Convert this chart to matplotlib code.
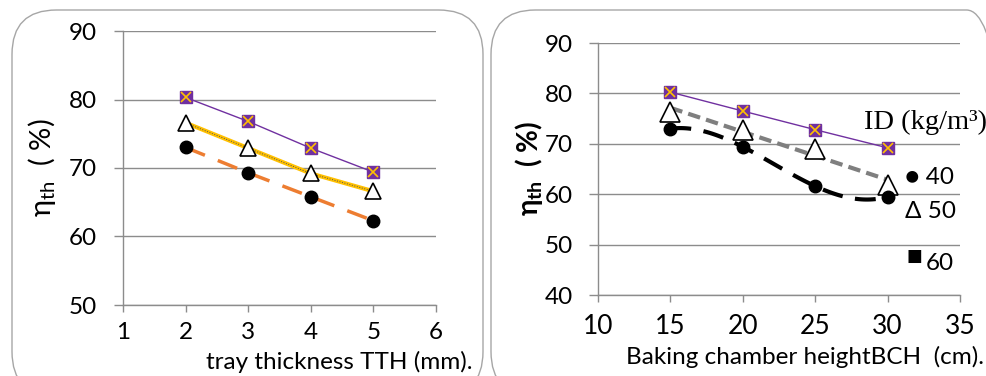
import numpy as np
import matplotlib.pyplot as plt
from matplotlib.patches import FancyBboxPatch

# ---------------------------------------------------------------
# data
# ---------------------------------------------------------------
tth = [2, 3, 4, 5]                       # tray thickness (mm)
tth_id60 = [80.3, 76.8, 72.9, 69.4]
tth_id50 = [76.6, 72.9, 69.2, 66.6]
tth_id40 = [73.0, 69.3, 65.8, 62.3]

bch = [15, 20, 25, 30]                   # baking chamber height (cm)
bch_id60 = [80.25, 76.5, 72.8, 69.2]
bch_id50 = [76.4, 72.8, 69.0, 61.8]
bch_id40 = [73.0, 69.4, 61.6, 59.5]

left_xticks = [1, 2, 3, 4, 5, 6]
left_yticks = [50, 60, 70, 80, 90]
right_xticks = [10, 15, 20, 25, 30, 35]
right_yticks = [40, 50, 60, 70, 80, 90]

FONT = 'Lato'
GRID = '#8c8c8c'
PURPLE = '#7030a0'
GOLD = '#ffc000'
ORANGE = '#ed7d31'

plt.rcParams['font.family'] = [FONT, 'DejaVu Sans']
plt.rcParams['mathtext.fontset'] = 'custom'
plt.rcParams['mathtext.rm'] = FONT
plt.rcParams['mathtext.bf'] = FONT + ':bold'

fig = plt.figure(figsize=(9.87, 3.76), dpi=100)

# rounded frames around both panels (bottom runs past the figure edge)
for x0, w in [(12, 471), (491, 520)]:
    box = FancyBboxPatch((x0 / 987, -20 / 376), w / 987, 386 / 376,
                         boxstyle='round,pad=0,rounding_size=0.045',
                         transform=fig.transFigure, fill=False,
                         ec='#a6a6a6', lw=1.0, mutation_aspect=987 / 376)
    fig.patches.append(box)


def style_axes(ax, xticks, yticks):
    for s in ['top', 'right']:
        ax.spines[s].set_visible(False)
    for s in ['left', 'bottom']:
        ax.spines[s].set_color(GRID)
        ax.spines[s].set_linewidth(1.0)
    ax.set_xticks(xticks)
    ax.set_yticks(yticks)
    ax.set_xlim(xticks[0], xticks[-1])
    ax.set_ylim(yticks[0], yticks[-1])
    ax.yaxis.grid(True, color=GRID, lw=1.0)
    ax.set_axisbelow(True)
    ax.tick_params(axis='y', length=6.5, color=GRID, width=1, labelsize=17.5, pad=12)
    ax.tick_params(axis='x', length=5, color=GRID, width=1, labelsize=17.5, pad=7)


# ---------------------------------------------------------------
# left panel: tray thickness
# ---------------------------------------------------------------
ax1 = fig.add_axes([123 / 987, 1 - 305 / 376, 313 / 987, 274 / 376])
style_axes(ax1, left_xticks, left_yticks)

ax1.plot(tth, tth_id60, color=PURPLE, lw=1.0, zorder=3)
ax1.plot(tth, tth_id60, 's', ms=8, mfc=PURPLE, mec=PURPLE, zorder=4)
ax1.plot(tth, tth_id60, 'x', ms=7, mew=1.2, color=GOLD, zorder=5)

ax1.plot(tth, tth_id50, color=GOLD, lw=3, zorder=3)
ax1.plot(tth, tth_id50, color='#555555', lw=0.7, ls=':', zorder=3)
ax1.plot(tth, tth_id50, '^', ms=11, mfc='white', mec='black', mew=1.2, zorder=4)

ax1.plot(tth, tth_id40, color=ORANGE, lw=2.5, dashes=(6, 4), zorder=3)
ax1.plot(tth, tth_id40, 'o', ms=9, color='black', zorder=4)

ax1.set_ylabel(r'$\mathregular{\eta_{th}}$  ( %)', fontsize=21, labelpad=8)
fig.text(473 / 987, 1 - 362 / 376, 'tray thickness TTH (mm).', ha='right',
         va='center', fontsize=17.5)

# ---------------------------------------------------------------
# right panel: baking chamber height
# ---------------------------------------------------------------
ax2 = fig.add_axes([598 / 987, 1 - 295 / 376, 362 / 987, 252 / 376])
style_axes(ax2, right_xticks, right_yticks)
ax2.tick_params(axis='y', pad=11.5)
ax2.tick_params(axis='x', labelsize=19, pad=9)

ax2.plot(bch, bch_id60, color=PURPLE, lw=1.0, zorder=3)
ax2.plot(bch, bch_id60, 's', ms=8, mfc=PURPLE, mec=PURPLE, zorder=4)
ax2.plot(bch, bch_id60, 'x', ms=7, mew=1.2, color=GOLD, zorder=5)

# linear trend through the 50 kg/m3 points
k, b = np.polyfit(bch, bch_id50, 1)
xs = np.array([bch[0], bch[-1]])
ax2.plot(xs, k * xs + b, color='#7f7f7f', lw=3, dashes=(3, 1.5), zorder=3)
ax2.plot(bch, bch_id50, '^', ms=14, mfc='white', mec='black', mew=1.2, zorder=4)

# smooth curve through the 40 kg/m3 points
c = np.polyfit(bch, bch_id40, 3)
xc = np.linspace(bch[0], bch[-1], 100)
ax2.plot(xc, np.polyval(c, xc), color='black', lw=3, dashes=(5, 3), zorder=3)
ax2.plot(bch, bch_id40, 'o', ms=9, color='black', zorder=4)

ax2.set_ylabel(r'$\mathbf{\eta_{th}}$  ( %)', fontsize=20, fontweight='bold',
               labelpad=0)
fig.text(984 / 987, 1 - 357 / 376, 'Baking chamber heightBCH  (cm).',
         ha='right', va='center', fontsize=17.5)

# hand-placed key on the right
fig.text(864 / 987, 1 - 122 / 376, 'ID (kg/m\u00b3)', family='Liberation Serif',
         fontsize=20.5, va='center')
fig.text(905 / 987, 1 - 178 / 376, '\u25cf 40', fontsize=17.5, va='center')
fig.text(905 / 987, 1 - 211 / 376, '\u0394 50', fontsize=17.5, va='center')
fig.text(907 / 987, 1 - 256 / 376, '\u25a0', fontsize=12, va='center')
fig.text(926 / 987, 1 - 264 / 376, '60', fontsize=17.5, va='center')

fig.savefig('out.png', dpi=100)
